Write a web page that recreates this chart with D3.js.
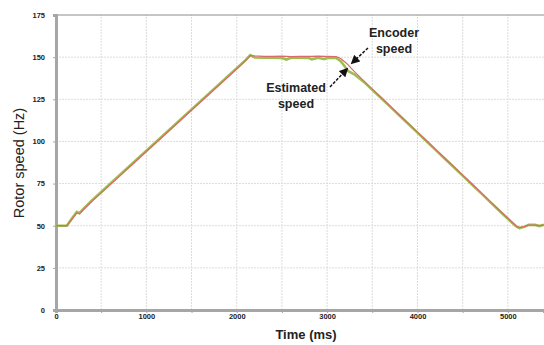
<!DOCTYPE html>
<html>
<head>
<meta charset="utf-8">
<script src="https://cdn.jsdelivr.net/npm/d3@7"></script>
<style>
  body { margin: 0; background: #fff; }
  svg { display: block; font-family: "Liberation Sans", Arial, sans-serif; }
</style>
</head>
<body>
<div id="chart"></div>
<script>
// time axis (ms)
const times = [
  0, 120, 180, 230, 260, 300, 400, 500, 600, 700,
  800, 900, 1000, 1100, 1200, 1300, 1400, 1500, 1600, 1700,
  1800, 1900, 2000, 2100, 2150, 2200, 2300, 2400, 2500, 2550,
  2600, 2700, 2800, 2830, 2900, 2970, 3000, 3100, 3150, 3200,
  3230, 3260, 3300, 3400, 3500, 3600, 3700, 3800, 3900, 4000,
  4100, 4200, 4300, 4400, 4500, 4600, 4700, 4800, 4900, 5000,
  5050, 5100, 5130, 5180, 5230, 5300, 5350, 5400
];
// encoder speed (Hz)
const encoderSpeed = [
  50, 50, 54.0, 57.6, 57.0, 59.3, 64.6, 69.5, 74.4, 79.3,
  84.2, 89.1, 94.0, 98.9, 103.8, 108.7, 113.6, 118.5, 123.4, 128.3,
  133.2, 138.1, 143.0, 147.9, 150.9, 150.7, 150.5, 150.4, 150.6, 150.5,
  150.3, 150.5, 150.4, 150.4, 150.6, 150.4, 150.5, 150.3, 149.2, 147.0,
  145.6, 143.8, 141.6, 136.2, 131.0, 125.9, 120.8, 115.7, 110.6, 105.5,
  100.4, 95.3, 90.2, 85.1, 80.0, 74.9, 69.8, 64.6, 59.5, 54.4,
  51.9, 49.6, 48.9, 49.5, 50.3, 50.3, 50.0, 50.4
];
// estimated speed (Hz)
const estimatedSpeed = [
  50, 50, 54.6, 58.2, 57.4, 59.8, 65.1, 70.0, 74.9, 79.8,
  84.7, 89.6, 94.5, 99.4, 104.3, 109.2, 114.1, 119.0, 123.9, 128.8,
  133.7, 138.6, 143.5, 148.4, 151.2, 149.8, 149.6, 149.7, 149.5, 148.6,
  149.6, 149.7, 149.5, 148.7, 149.6, 148.8, 149.6, 149.5, 147.6, 144.2,
  141.8, 141.0, 139.8, 135.6, 130.6, 125.6, 120.5, 115.4, 110.3, 105.2,
  100.1, 95.0, 89.9, 84.8, 79.7, 74.6, 69.5, 64.3, 59.2, 54.1,
  51.6, 49.3, 48.6, 49.3, 50.5, 50.5, 49.8, 50.6
];
const xTicks = [0, 1000, 2000, 3000, 4000, 5000];
const xGrid = [500, 1000, 1500, 2000, 2500, 3000, 3500, 4000, 4500, 5000];
const yTicks = [0, 25, 50, 75, 100, 125, 150, 175];

const width = 544, height = 345;
const margin = { top: 15, right: 0, bottom: 35, left: 56 };

const svg = d3.select('#chart').append('svg')
  .attr('width', width)
  .attr('height', height);

const x = d3.scaleLinear()
  .domain([0, 5400])
  .range([margin.left, width - margin.right]);

const y = d3.scaleLinear()
  .domain([0, 175])
  .range([height - margin.bottom, margin.top]);

// gridlines
svg.append('g')
  .selectAll('line')
  .data(yTicks.filter(d => d > 0 && d < 175))
  .join('line')
  .attr('x1', x(0)).attr('x2', x(5400))
  .attr('y1', d => y(d)).attr('y2', d => y(d))
  .attr('stroke', '#dcdcdc')
  .attr('stroke-dasharray', '2,1');

svg.append('g')
  .selectAll('line')
  .data(xGrid)
  .join('line')
  .attr('x1', d => x(d)).attr('x2', d => x(d))
  .attr('y1', y(0)).attr('y2', y(175))
  .attr('stroke', '#dcdcdc')
  .attr('stroke-dasharray', '2,1');

// top border
svg.append('line')
  .attr('x1', x(0)).attr('x2', x(5400))
  .attr('y1', y(175)).attr('y2', y(175))
  .attr('stroke', '#8c8c8c')
  .attr('stroke-width', 1);

// axes
const xAxis = svg.append('g')
  .attr('transform', `translate(0,${y(0)})`)
  .call(d3.axisBottom(x).tickValues(xGrid.concat([0])).tickSize(3).tickFormat(d => xTicks.includes(d) ? d : ''));
xAxis.select('.domain').attr('stroke', '#a6a6a6').attr('stroke-width', 3);
xAxis.selectAll('.tick line').attr('stroke', '#a6a6a6');
xAxis.selectAll('text')
  .attr('dy', '0.4em')
  .style('font-size', '7.5px')
  .style('font-weight', 'bold')
  .attr('fill', '#222');

const yAxis = svg.append('g')
  .attr('transform', `translate(${x(0)},0)`)
  .call(d3.axisLeft(y).tickValues(yTicks).tickSize(3).tickPadding(8));
yAxis.select('.domain').attr('stroke', '#a6a6a6').attr('stroke-width', 3);
yAxis.selectAll('.tick line').attr('stroke', '#a6a6a6');
yAxis.selectAll('text')
  .style('font-size', '7.5px')
  .style('font-weight', 'bold')
  .attr('fill', '#222');

// series
const line = d3.line()
  .x((d, i) => x(times[i]))
  .y(d => y(d));

svg.append('path')
  .datum(estimatedSpeed)
  .attr('fill', 'none')
  .attr('stroke', '#9cc04f')
  .attr('stroke-width', 2.6)
  .attr('d', line);

svg.append('path')
  .datum(encoderSpeed)
  .attr('fill', 'none')
  .attr('stroke', '#dc6a6a')
  .attr('stroke-width', 1.2)
  .attr('d', line);

// axis titles
svg.append('text')
  .attr('x', 306)
  .attr('y', 339)
  .attr('text-anchor', 'middle')
  .style('font-size', '13px')
  .style('font-weight', 'bold')
  .attr('fill', '#222')
  .text('Time (ms)');

svg.append('text')
  .attr('transform', 'translate(24,163) rotate(-90)')
  .attr('text-anchor', 'middle')
  .style('font-size', '14.5px')
  .attr('fill', '#222')
  .text('Rotor speed (Hz)');

// annotations
const defs = svg.append('defs');
defs.append('marker')
  .attr('id', 'arrow')
  .attr('viewBox', '0 0 10 10')
  .attr('refX', 8).attr('refY', 5)
  .attr('markerWidth', 6).attr('markerHeight', 6)
  .attr('orient', 'auto')
  .append('path')
  .attr('d', 'M0,0 L10,5 L0,10 Z')
  .attr('fill', '#111');

const notes = [
  { lines: ['Encoder', 'speed'], tx: 394, ty: 37, from: [368, 48], to: [352, 63] },
  { lines: ['Estimated', 'speed'], tx: 296, ty: 92, from: [330, 87], to: [347, 69] }
];

notes.forEach(n => {
  const t = svg.append('text')
    .attr('text-anchor', 'middle')
    .style('font-size', '12.5px')
    .style('font-weight', 'bold')
    .attr('fill', '#222');
  n.lines.forEach((s, i) => {
    t.append('tspan').attr('x', n.tx).attr('y', n.ty + i * 16).text(s);
  });
  svg.append('line')
    .attr('x1', n.from[0]).attr('y1', n.from[1])
    .attr('x2', n.to[0]).attr('y2', n.to[1])
    .attr('stroke', '#111')
    .attr('stroke-width', 1.5)
    .attr('stroke-dasharray', '3,1.5')
    .attr('marker-end', 'url(#arrow)');
});
</script>
</body>
</html>
